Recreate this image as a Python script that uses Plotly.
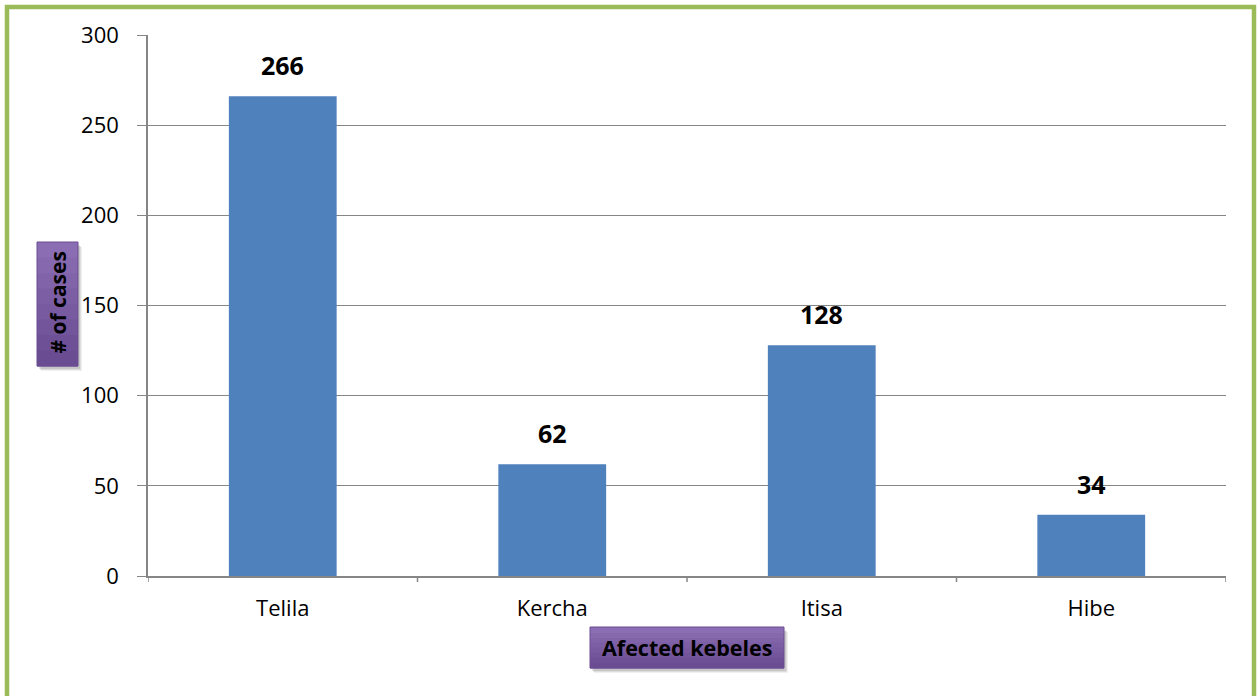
import plotly.graph_objects as go

categories = ["Telila", "Kercha", "Itisa", "Hibe"]
cases = [266, 62, 128, 34]
y_ticks = [0, 50, 100, 150, 200, 250, 300]

W, H = 1257, 696
L, R, T, B = 148, 1226, 35, 576
pw, ph = R - L, B - T

def px(x):
    return (x - L) / pw

def py(y):
    return (B - y) / ph

FONT = "Open Sans"

fig = go.Figure()
fig.add_trace(go.Bar(
    x=categories, y=cases, width=0.4,
    marker=dict(color="#4F81BD", line=dict(width=0)),
    cliponaxis=False, hoverinfo="x+y",
))

shapes = []
# green outer border (bottom edge falls outside the page)
shapes.append(dict(type="rect", xref="paper", yref="paper",
                   x0=px(7), x1=px(1254), y0=py(7), y1=py(702),
                   line=dict(color="#9BBB59", width=4.5), fillcolor="rgba(0,0,0,0)", layer="below"))
# category tick marks at boundaries
for i in range(len(categories) + 1):
    shapes.append(dict(type="line", xref="x", yref="paper",
                       x0=i - 0.5, x1=i - 0.5, y0=0, y1=py(582),
                       line=dict(color="#868686", width=1.5)))

def box(x0, x1, y0, y1):
    # soft shadow
    for k, a in [(5, 0.06), (4, 0.08), (3, 0.10)]:
        shapes.append(dict(type="rect", xref="paper", yref="paper",
                           x0=px(x0 + k - 1), x1=px(x1 + k - 1), y0=py(y0 + k), y1=py(y1 + k),
                           line=dict(width=0), fillcolor=f"rgba(0,0,0,{a})"))
    # vertical gradient purple
    n = 8
    top = (0x8B, 0x6D, 0xB3)
    bot = (0x6A, 0x4C, 0x93)
    for j in range(n):
        t = j / (n - 1)
        c = tuple(int(top[m] + (bot[m] - top[m]) * t) for m in range(3))
        ya = y0 + (y1 - y0) * j / n
        yb = y0 + (y1 - y0) * (j + 1) / n
        shapes.append(dict(type="rect", xref="paper", yref="paper",
                           x0=px(x0), x1=px(x1), y0=py(ya), y1=py(yb + 0.5),
                           line=dict(width=0), fillcolor="rgb(%d,%d,%d)" % c))
    shapes.append(dict(type="rect", xref="paper", yref="paper",
                       x0=px(x0), x1=px(x1), y0=py(y0), y1=py(y1),
                       line=dict(color="#6A4C93", width=1), fillcolor="rgba(0,0,0,0)"))

box(37, 78, 242, 366)
box(590, 784, 627, 668)

annotations = [
    dict(text="<b># of cases</b>", textangle=-90, xref="paper", yref="paper",
         x=px(57.5), y=py(303), xanchor="center", yanchor="middle", showarrow=False,
         font=dict(family=FONT, size=21, color="black")),
    dict(text="<b>Afected kebeles</b>", xref="paper", yref="paper",
         x=px(687), y=py(647.5), xanchor="center", yanchor="middle", showarrow=False,
         font=dict(family=FONT, size=21.5, color="black")),
]
for c, v in zip(categories, cases):
    annotations.append(dict(text="<b>%d</b>" % v, x=c, y=v, xref="x", yref="y",
                            xanchor="center", yanchor="bottom", yshift=12, showarrow=False,
                            font=dict(family=FONT, size=25, color="black")))

fig.update_layout(
    width=W, height=H,
    margin=dict(l=L, r=W - R, t=T, b=H - B, pad=0),
    paper_bgcolor="white", plot_bgcolor="white",
    showlegend=False,
    shapes=shapes, annotations=annotations,
    font=dict(family=FONT, size=22, color="black"),
    xaxis=dict(showgrid=False, showline=True, linecolor="#868686", linewidth=1.5,
               ticks="", tickfont=dict(size=22), ticklabelstandoff=12,
               range=[-0.5, 3.5]),
    yaxis=dict(range=[0, 300], tickvals=y_ticks, showgrid=True,
               gridcolor="#868686", gridwidth=1, showline=True,
               linecolor="#868686", linewidth=1.5, ticks="outside",
               ticklen=9, tickcolor="#868686", tickfont=dict(size=22),
               zeroline=False, ticklabelstandoff=14),
)

fig.write_html("out.html")
